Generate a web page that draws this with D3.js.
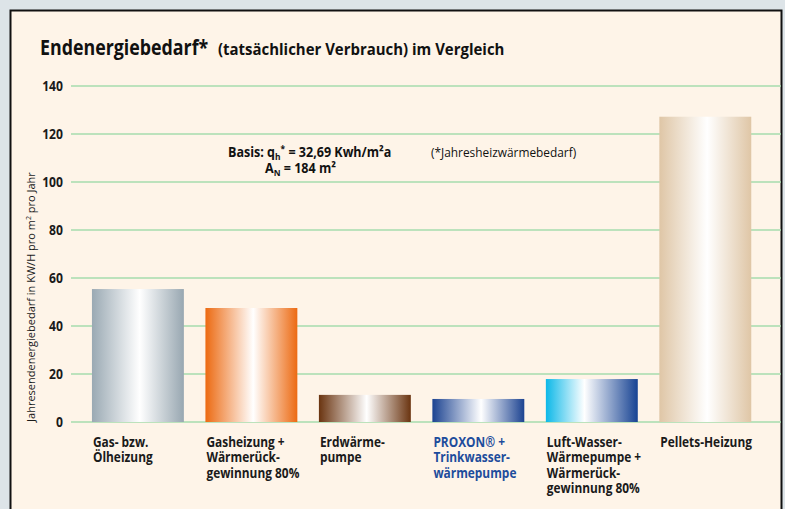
<!DOCTYPE html>
<html lang="de">
<head>
    <meta charset="UTF-8">
    <title>Endenergiebedarf</title>
    <script src="https://d3js.org/d3.v7.min.js"></script>
    <style>
        body { margin: 0; background: #dde4e8; }
        svg { display: block; font-family: "Open Sans", "DejaVu Sans", sans-serif; }
    </style>
</head>
<body>
    <svg width="785" height="509"></svg>
    <script>
        // Data
        const categories = ["gas", "gasWrg", "erd", "proxon", "luft", "pellets"];
        const labels = [
            ["Gas- bzw.", "Ölheizung"],
            ["Gasheizung +", "Wärmerück-", "gewinnung 80%"],
            ["Erdwärme-", "pumpe"],
            ["PROXON® +", "Trinkwasser-", "wärmepumpe"],
            ["Luft-Wasser-", "Wärmepumpe +", "Wärmerück-", "gewinnung 80%"],
            ["Pellets-Heizung"]
        ];
        const values = [55.4, 47.5, 11.3, 9.6, 17.9, 127.2];
        const yTicks = [0, 20, 40, 60, 80, 100, 120, 140];

        // gradient stops per bar: [offset, colour]
        const gradients = [
            [[0, "#9aa9b3"], [0.52, "#ffffff"], [1, "#98a7b1"]],
            [[0, "#ec6a12"], [0.52, "#ffffff"], [1, "#ec6a12"]],
            [[0, "#6a3410"], [0.52, "#ffffff"], [1, "#6a3410"]],
            [[0, "#1c4391"], [0.53, "#ffffff"], [1, "#1c4391"]],
            [[0, "#0cb8e8"], [0.42, "#ffffff"], [1, "#174393"]],
            [[0, "#dfc6a6"], [0.52, "#ffffff"], [1, "#dfc6a6"]]
        ];

        const svg = d3.select("svg");

        // panel
        svg.append("rect")
            .attr("x", 10.5).attr("y", 10.5)
            .attr("width", 771).attr("height", 520)
            .attr("fill", "#fef4e8")
            .attr("stroke", "#111")
            .attr("stroke-width", 2);

        const x = d3.scaleBand()
            .domain(categories)
            .range([80.6, 762.6])
            .paddingInner(0.19)
            .paddingOuter(0.1);

        const y = d3.scaleLinear()
            .domain([0, 140])
            .range([422, 86]);

        // narrow text: condensed look by squeezing horizontally
        const squeezed = (px, py, sx) => svg.append("g")
            .attr("transform", `translate(${px},${py}) scale(${sx},1)`)
            .append("text");

        // defs
        const defs = svg.append("defs");
        categories.forEach((c, i) => {
            const g = defs.append("linearGradient")
                .attr("id", "grad-" + c)
                .attr("x1", "0%").attr("x2", "100%")
                .attr("y1", "0%").attr("y2", "0%");
            gradients[i].forEach(s => {
                g.append("stop").attr("offset", s[0]).attr("stop-color", s[1]);
            });
        });

        // gridlines
        svg.append("g")
            .selectAll("line")
            .data(yTicks)
            .join("line")
            .attr("x1", 71).attr("x2", 781)
            .attr("y1", d => y(d)).attr("y2", d => y(d))
            .attr("stroke", "#a6dcae")
            .attr("stroke-width", 1.5);

        // tick labels
        yTicks.forEach(t => {
            squeezed(63, y(t) + 4.5, 0.9)
                .attr("text-anchor", "end")
                .style("font-size", "13.5px")
                .style("font-weight", "bold")
                .attr("fill", "#1a1a1a")
                .text(t);
        });

        // bars
        svg.append("g")
            .selectAll("rect")
            .data(values)
            .join("rect")
            .attr("x", (d, i) => x(categories[i]))
            .attr("y", d => y(d))
            .attr("width", x.bandwidth())
            .attr("height", d => y(0) - y(d))
            .attr("fill", (d, i) => `url(#grad-${categories[i]})`);

        // category labels
        labels.forEach((lines, i) => {
            const t = squeezed(x(categories[i]) + 1, 447, 0.85)
                .style("font-size", "14px")
                .style("font-weight", "bold")
                .attr("fill", categories[i] === "proxon" ? "#1d4c9c" : "#1a1a1a");
            t.selectAll("tspan")
                .data(lines)
                .join("tspan")
                .attr("x", 0)
                .attr("dy", (d, j) => j === 0 ? 0 : 15.5)
                .text(d => d);
        });

        // y axis title
        svg.append("text")
            .attr("transform", "translate(35,297) rotate(-90)")
            .attr("text-anchor", "middle")
            .style("font-size", "11px")
            .attr("fill", "#1a1a1a")
            .html('Jahresendenergiebedarf in KW/H pro m<tspan dy="-4" font-size="7px">2</tspan><tspan dy="4"> pro Jahr</tspan>');

        // title
        squeezed(40, 55, 0.81)
            .style("font-size", "22px")
            .style("font-weight", "bold")
            .attr("fill", "#111")
            .text("Endenergiebedarf*");
        squeezed(218, 55, 0.965)
            .style("font-size", "15.5px")
            .style("font-weight", "bold")
            .attr("fill", "#111")
            .text("(tatsächlicher Verbrauch) im Vergleich");

        // annotation
        squeezed(228, 157, 0.93)
            .style("font-size", "13.5px")
            .style("font-weight", "bold")
            .attr("fill", "#111")
            .html('Basis: q<tspan dy="3" font-size="9px">h</tspan><tspan dy="-8" font-size="9px">*</tspan><tspan dy="5"> = 32,69 Kwh/m²a</tspan>');
        squeezed(265, 173, 0.93)
            .style("font-size", "13.5px")
            .style("font-weight", "bold")
            .attr("fill", "#111")
            .html('A<tspan dy="3" font-size="9px">N</tspan><tspan dy="-3"> = 184 m²</tspan>');
        squeezed(431, 157, 0.88)
            .style("font-size", "13.5px")
            .attr("fill", "#111")
            .text("(*Jahresheizwärmebedarf)");
    </script>
</body>
</html>
